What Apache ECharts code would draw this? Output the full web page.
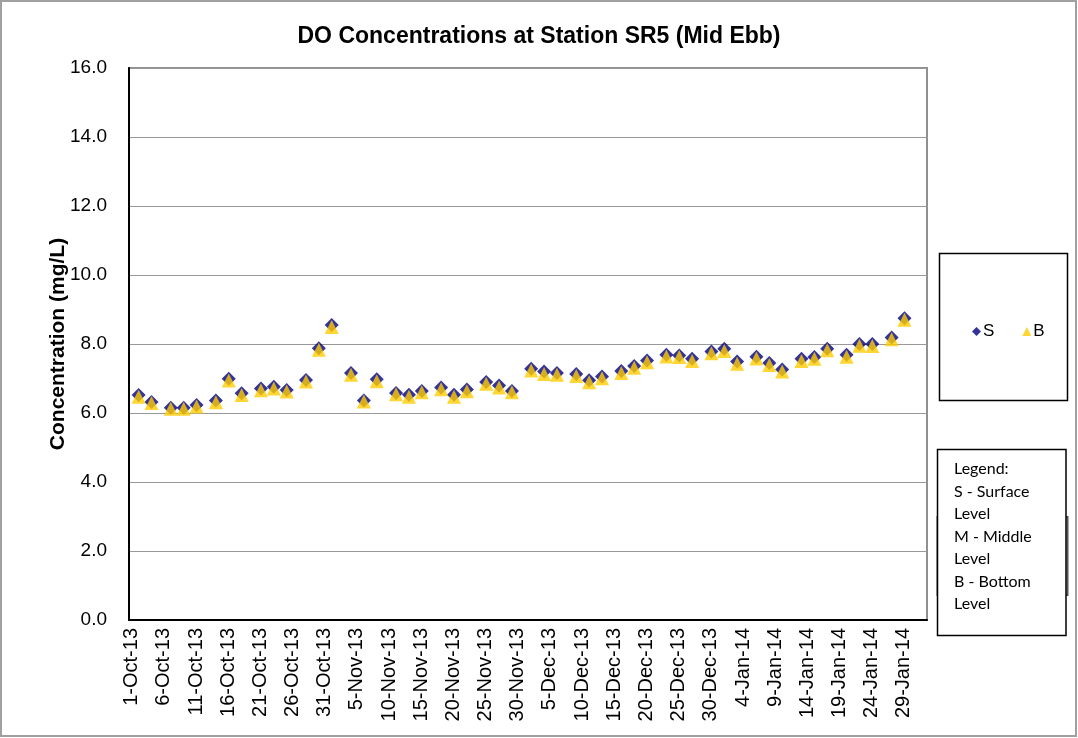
<!DOCTYPE html>
<html>
<head>
<meta charset="utf-8">
<script src="https://cdn.jsdelivr.net/npm/echarts@6/dist/echarts.min.js"></script>
<style>
  html, body { margin: 0; padding: 0; background: #fff; }
  #chart { width: 1078px; height: 738px; }
</style>
</head>
<body>
<div id="chart"></div>
<script>
// sample dates (day-month-year as printed on the axis)
const sampleDates = ['1-Oct-13','3-Oct-13','6-Oct-13','8-Oct-13','10-Oct-13','13-Oct-13','15-Oct-13','17-Oct-13',
  '20-Oct-13','22-Oct-13','24-Oct-13','27-Oct-13','29-Oct-13','31-Oct-13','3-Nov-13','5-Nov-13','7-Nov-13',
  '10-Nov-13','12-Nov-13','14-Nov-13','17-Nov-13','19-Nov-13','21-Nov-13','24-Nov-13','26-Nov-13','28-Nov-13',
  '1-Dec-13','3-Dec-13','5-Dec-13','8-Dec-13','10-Dec-13','12-Dec-13','15-Dec-13','17-Dec-13','19-Dec-13',
  '22-Dec-13','24-Dec-13','26-Dec-13','29-Dec-13','31-Dec-13','2-Jan-14','5-Jan-14','7-Jan-14','9-Jan-14',
  '12-Jan-14','14-Jan-14','16-Jan-14','19-Jan-14','21-Jan-14','23-Jan-14','26-Jan-14','28-Jan-14'];

// S - surface level
const surface = [6.52, 6.32, 6.15, 6.15, 6.23, 6.36, 6.99, 6.57, 6.71, 6.76, 6.67, 6.96, 7.88, 8.55, 7.16, 6.36,
  6.98, 6.58, 6.53, 6.64, 6.74, 6.53, 6.68, 6.90, 6.80, 6.64, 7.28, 7.20, 7.16, 7.13, 6.95, 7.06, 7.22, 7.36,
  7.52, 7.69, 7.67, 7.57, 7.78, 7.86, 7.49, 7.63, 7.45, 7.26, 7.57, 7.62, 7.86, 7.69, 8.00, 8.00, 8.19, 8.75];

// B - bottom level
const bottom = [6.47, 6.29, 6.12, 6.12, 6.19, 6.31, 6.94, 6.52, 6.66, 6.71, 6.62, 6.91, 7.83, 8.49, 7.11, 6.33,
  6.92, 6.54, 6.47, 6.60, 6.69, 6.47, 6.63, 6.85, 6.74, 6.60, 7.23, 7.13, 7.11, 7.07, 6.89, 7.01, 7.16, 7.31,
  7.47, 7.64, 7.62, 7.51, 7.73, 7.80, 7.43, 7.58, 7.39, 7.20, 7.51, 7.57, 7.82, 7.63, 7.95, 7.94, 8.14, 8.70];

const yTicks = { min: 0, max: 16, step: 2 };

// date axis: one slot per day, 30-Sep-13 .. 31-Jan-14
const monthNames = ['Jan','Feb','Mar','Apr','May','Jun','Jul','Aug','Sep','Oct','Nov','Dec'];
const axisDays = [];
for (let i = 0; i < 124; i++) {
  const d = new Date(Date.UTC(2013, 8, 30) + i * 86400000);
  axisDays.push(d.getUTCDate() + '-' + monthNames[d.getUTCMonth()] + '-' + String(d.getUTCFullYear()).slice(2));
}

const font = 'Arial, "Liberation Sans", sans-serif';
const chart = echarts.init(document.getElementById('chart'));

chart.setOption({
  animation: false,
  backgroundColor: '#fff',
  title: {
    text: 'DO Concentrations at Station SR5 (Mid Ebb)',
    left: 'center',
    top: 20,
    textStyle: { fontFamily: font, fontSize: 23, fontWeight: 'bold', color: '#000' }
  },
  legend: {
    left: 967,
    top: 318,
    itemWidth: 9,
    itemHeight: 9,
    itemGap: 28,
    textStyle: { fontFamily: font, fontSize: 17, color: '#000', padding: [0, 0, 0, -3] },
    data: [
      { name: 'S', icon: 'diamond' },
      { name: 'B', icon: 'triangle' }
    ]
  },
  grid: {
    left: 129, right: 151, top: 68, bottom: 118,
    show: true,
    borderColor: '#909090',
    borderWidth: 2
  },
  xAxis: {
    type: 'category',
    data: axisDays,
    boundaryGap: true,
    axisLine: { lineStyle: { color: '#000', width: 2 } },
    axisTick: { show: false },
    axisLabel: {
      rotate: 90,
      margin: 8,
      color: '#000',
      fontFamily: font,
      fontSize: 20,
      verticalAlign: 'bottom',
      lineHeight: 14,
      interval: (index) => (index - 1) % 5 === 0
    },
    splitLine: { show: false }
  },
  yAxis: {
    type: 'value',
    min: yTicks.min,
    max: yTicks.max,
    interval: yTicks.step,
    name: 'Concentration (mg/L)',
    nameLocation: 'middle',
    nameGap: 60,
    nameMoveOverlap: false,
    nameTextStyle: { fontFamily: font, fontSize: 21, fontWeight: 'bold', color: '#000' },
    axisLine: { show: true, lineStyle: { color: '#000', width: 2 } },
    axisTick: { show: false },
    axisLabel: {
      margin: 22,
      color: '#000',
      fontFamily: font,
      fontSize: 19,
      formatter: (v) => v.toFixed(1)
    },
    splitLine: { lineStyle: { color: '#999', width: 1 } }
  },
  series: [
    {
      name: 'S',
      type: 'scatter',
      symbol: 'diamond',
      symbolSize: 14,
      itemStyle: { color: '#000080' },
      data: sampleDates.map((d, i) => [d, surface[i]])
    },
    {
      name: 'B',
      type: 'scatter',
      symbol: 'triangle',
      symbolSize: 14,
      itemStyle: { color: '#FFCC00' },
      data: sampleDates.map((d, i) => [d, bottom[i]])
    }
  ],
  graphic: [
    // outer chart frame
    { type: 'rect', shape: { x: 1, y: 1, width: 1075, height: 735 }, style: { fill: null, stroke: '#a0a0a0', lineWidth: 2 }, z: 0 },
    // legend frame
    { type: 'rect', shape: { x: 939.5, y: 253.5, width: 128, height: 147 }, style: { fill: null, stroke: '#000', lineWidth: 1.5 }, z: 1 },
    // box peeking out behind the notes
    { type: 'rect', shape: { x: 937.5, y: 517, width: 130, height: 78 }, style: { fill: '#fff', stroke: '#555', lineWidth: 2 }, z: 1 },
    // notes box
    {
      type: 'rect', shape: { x: 937.5, y: 449.5, width: 128.5, height: 186 },
      style: { fill: '#fff', stroke: '#000', lineWidth: 1.5 }, z: 2
    },
    {
      type: 'text', left: 954, top: 458, z: 3,
      style: {
        text: 'Legend:\nS - Surface\nLevel\nM - Middle\nLevel\nB - Bottom\nLevel',
        fontFamily: 'Lato, "Open Sans", sans-serif',
        fontSize: 16,
        lineHeight: 22.5,
        fill: '#000'
      }
    }
  ]
});
</script>
</body>
</html>
